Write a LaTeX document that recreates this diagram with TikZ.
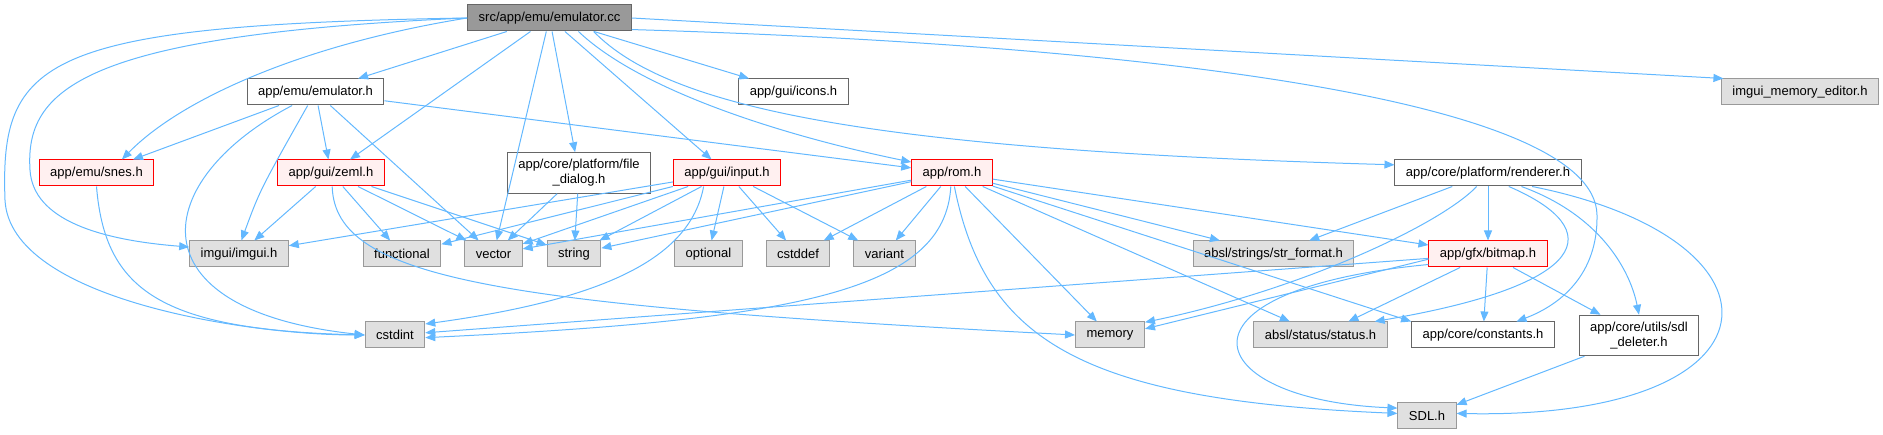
\documentclass[tikz,border=0pt]{standalone}
\usepackage{fontspec}
\setmainfont{Liberation Sans}
\usetikzlibrary{arrows.meta}
\definecolor{edgeblue}{HTML}{63B8FF}
\definecolor{rootfill}{HTML}{999999}
\definecolor{darkframe}{HTML}{666666}
\definecolor{redfill}{HTML}{FFF0F0}
\definecolor{sysfill}{HTML}{E0E0E0}
\definecolor{sysframe}{HTML}{999999}

\begin{document}
\begin{tikzpicture}[x=1pt,y=-1pt,
    every node/.style={font=\fontsize{13}{15}\selectfont, inner xsep=11pt,
      inner ysep=0pt, minimum height=26pt, line width=1pt},
    root/.style={draw=darkframe, fill=rootfill},
    local/.style={draw=darkframe, fill=white},
    partial/.style={draw=red, fill=redfill},
    sys/.style={draw=sysframe, fill=sysfill},
    twolines/.style={align=center, minimum height=40.5pt},
    dep/.style={draw=edgeblue, line width=1pt,
      -{Triangle[length=10pt,width=8pt]}}]
    \useasboundingbox (0,0) rectangle (1883,435);
    \node[root] (emucc) at (549.5,18) {src/app/emu/emulator.cc};
    \node[local] (emuh) at (315.5,92) {app/emu/emulator.h};
    \node[local] (icons) at (793.5,92) {app/gui/icons.h};
    \node[sys] (memedit) at (1800,92) {imgui\_memory\_editor.h};
    \node[partial] (snes) at (96.5,173) {app/emu/snes.h};
    \node[partial] (zeml) at (331,173) {app/gui/zeml.h};
    \node[local,twolines] (filedlg) at (579,173) {app/core/platform/file\\\_dialog.h};
    \node[partial] (input) at (727,173) {app/gui/input.h};
    \node[partial] (rom) at (952,173) {app/rom.h};
    \node[local] (renderer) at (1488,173) {app/core/platform/renderer.h};
    \node[sys] (imgui) at (239,254) {imgui/imgui.h};
    \node[sys] (functional) at (402,254) {functional};
    \node[sys] (vector) at (493.5,254) {vector};
    \node[sys] (string) at (574,254) {string};
    \node[sys] (optional) at (708.5,254) {optional};
    \node[sys] (cstddef) at (798,254) {cstddef};
    \node[sys] (variant) at (884.5,254) {variant};
    \node[sys] (strformat) at (1273.5,254) {absl/strings/str\_format.h};
    \node[partial] (bitmap) at (1488,254) {app/gfx/bitmap.h};
    \node[sys] (cstdint) at (395,335) {cstdint};
    \node[sys] (memory) at (1110,335) {memory};
    \node[sys] (status) at (1320.5,335) {absl/status/status.h};
    \node[local] (constants) at (1483,335) {app/core/constants.h};
    \node[local,twolines] (sdldel) at (1639,335.5) {app/core/utils/sdl\\\_deleter.h};
    \node[sys] (sdl) at (1427,416) {SDL.h};
    % emulator.cc
    \draw[dep] (emucc) -- (emuh);
    \draw[dep] (emucc.west) .. controls (300,45) and (180,100) .. (snes.28);
    \draw[dep] (emucc) -- (zeml);
    \draw[dep] (emucc.west) .. controls (80,35) and (25,90) .. (30,170)
      .. controls (33,220) and (100,240) .. (imgui.172);
    \draw[dep] (emucc.west) .. controls (40,25) and (0,60) .. (5,200)
      .. controls (10,300) and (250,335) .. (cstdint.west);
    \draw[dep] (emucc) -- (vector);
    \draw[dep] (emucc) -- (filedlg);
    \draw[dep] (emucc) -- (input);
    \draw[dep] (emucc.-25) .. controls (640,90) and (780,135) .. (rom.165);
    \draw[dep] (emucc) -- (icons);
    \draw[dep] (emucc.-17) .. controls (670,110) and (880,150) .. (renderer.175);
    \draw[dep] (emucc.east) -- (memedit.170);
    \draw[dep] (emucc.-8) .. controls (1150,45) and (1595,100) .. (1597,215)
      .. controls (1598,275) and (1560,305) .. (constants.22);
    % emulator.h
    \draw[dep] (emuh) -- (snes);
    \draw[dep] (emuh) -- (zeml);
    \draw[dep] (emuh.-120) .. controls (260,190) .. (imgui.80);
    \draw[dep] (emuh.-150) .. controls (150,180) and (130,310) .. (cstdint.west);
    \draw[dep] (emuh) -- (vector);
    \draw[dep] (emuh) -- (rom);
    % zeml.h, snes.h, file_dialog.h
    \draw[dep] (zeml) -- (imgui);
    \draw[dep] (zeml) -- (functional);
    \draw[dep] (zeml) -- (vector);
    \draw[dep] (zeml) -- (string);
    \draw[dep] (zeml.-85) .. controls (335,280) and (500,305) .. (memory.west);
    \draw[dep] (snes.south) .. controls (105,290) and (160,330) .. (cstdint.west);
    \draw[dep] (filedlg) -- (vector);
    \draw[dep] (filedlg) -- (string);
    % input.h
    \draw[dep] (input) -- (imgui);
    \draw[dep] (input) -- (functional);
    \draw[dep] (input) -- (vector);
    \draw[dep] (input) -- (string);
    \draw[dep] (input) -- (optional);
    \draw[dep] (input) -- (cstddef);
    \draw[dep] (input) -- (variant);
    \draw[dep] (input.-150) .. controls (690,260) and (600,300) .. (cstdint.20);
    % rom.h
    \draw[dep] (rom) -- (vector);
    \draw[dep] (rom) -- (string);
    \draw[dep] (rom) -- (cstddef);
    \draw[dep] (rom) -- (variant);
    \draw[dep] (rom.-95) .. controls (945,290) and (800,320) .. (cstdint.-5);
    \draw[dep] (rom.-80) .. controls (985,340) and (1080,400) .. (sdl.175);
    \draw[dep] (rom) -- (memory);
    \draw[dep] (rom) -- (status);
    \draw[dep] (rom) -- (constants.north west);
    \draw[dep] (rom) -- (strformat);
    \draw[dep] (rom) -- (bitmap);
    % renderer.h
    \draw[dep] (renderer) -- (strformat);
    \draw[dep] (renderer.-130) .. controls (1440,225) and (1300,290) .. (memory.20);
    \draw[dep] (renderer) -- (bitmap);
    \draw[dep] (renderer.-33) .. controls (1610,230) and (1590,285) .. (status.14);
    \draw[dep] (renderer.-22) .. controls (1600,215) and (1630,270) .. (sdldel.north);
    \draw[dep] (renderer.-17) .. controls (1800,240) and (1790,420) .. (sdl.5);
    % bitmap.h
    \draw[dep] (bitmap) -- (cstdint);
    \draw[dep] (bitmap.185) -- (memory.10);
    \draw[dep] (bitmap.190) .. controls (1160,290) and (1200,400) .. (sdl.165);
    \draw[dep] (bitmap) -- (status);
    \draw[dep] (bitmap) -- (constants);
    \draw[dep] (bitmap) -- (sdldel);
    \draw[dep] (sdldel) -- (sdl);
\end{tikzpicture}
\end{document}
